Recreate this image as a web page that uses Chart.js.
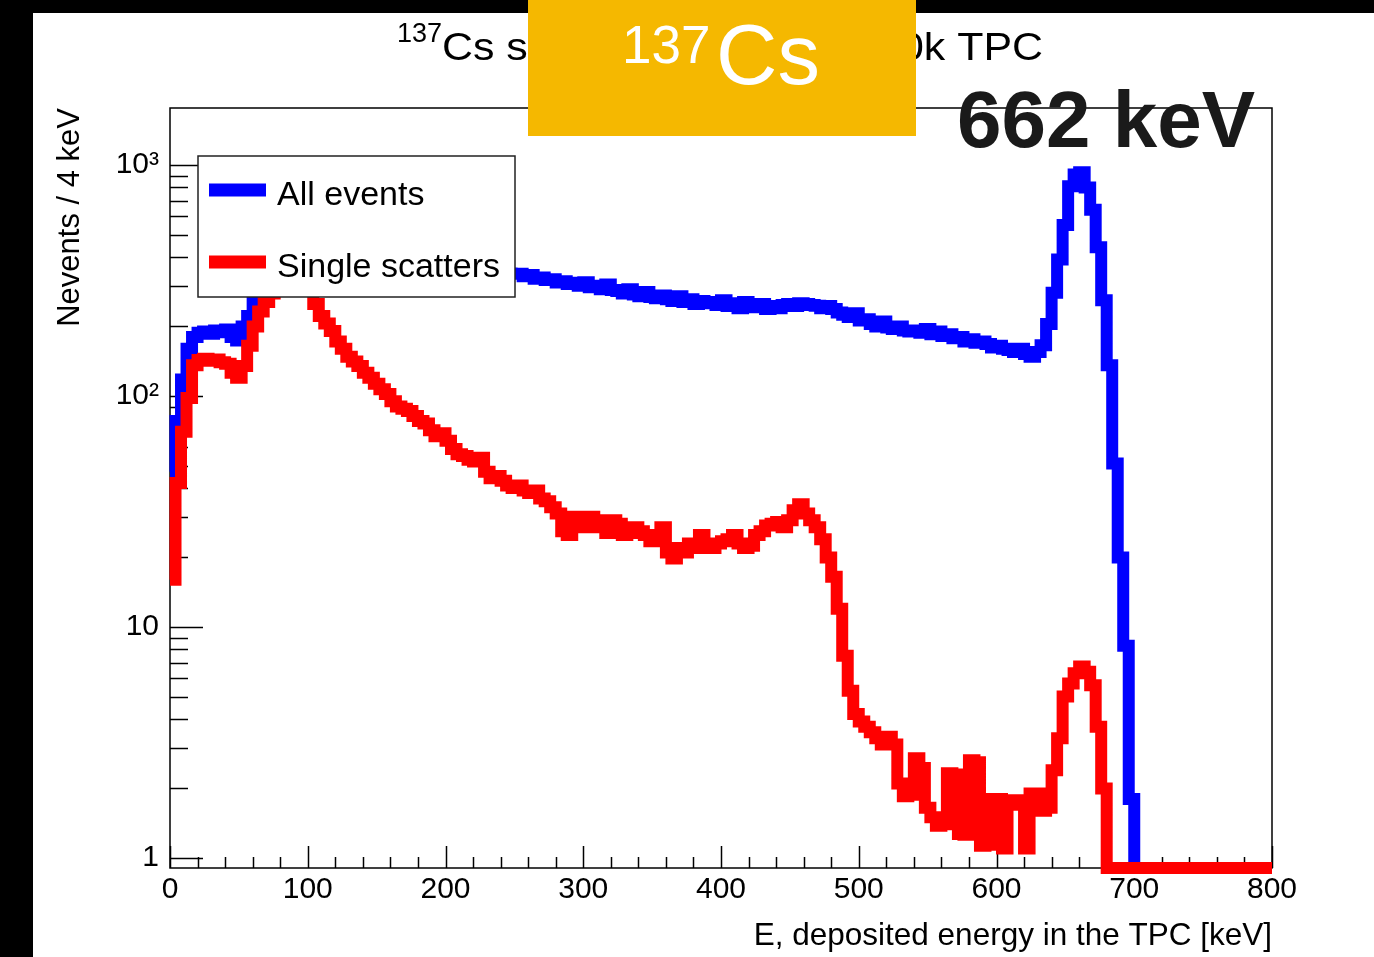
<!DOCTYPE html>
<html>
<head>
<meta charset="utf-8">
<title>137Cs spectrum</title>
<script src="https://cdn.jsdelivr.net/npm/chart.js@4.4.1/dist/chart.umd.min.js"></script>
<style>
  html, body { margin: 0; padding: 0; background: #000; overflow: hidden; }
  #chart { display: block; }
</style>
</head>
<body>
<canvas id="chart" width="1374" height="957"></canvas>
<script>
// histogram binning (keV)
const binWidth = 4;
const xMin = 0;
const xMax = 800;
const yMin = 0.905;
const yMax = 1765;

const xTicks = [0, 100, 200, 300, 400, 500, 600, 700, 800];
const yTicks = [1, 10, 100, 1000];
const yTickLabels = ['1', '10', '10²', '10³'];

// Nevents / 4 keV, one value per bin starting at 0 keV
const allEvents = [
  47, 78, 118, 160, 180, 188, 190, 186, 192, 189, 194, 180, 174, 200, 222, 255, 300,
  345, 390, 420, 440, 452, 455, 448, 438, 425, 415, 405, 398, 392, 386, 380,
  377, 373, 370, 368, 366, 363, 361, 360, 358, 356, 355, 353, 352, 351, 350,
  349, 348, 347, 346, 346, 345, 344, 343, 343, 342, 341, 341, 340, 340, 339, 338,
  338, 330, 334, 322, 326, 318,
  320, 310, 314, 305,
  309, 300, 311, 296,
  300, 290, 304, 288,
  285, 278, 290, 275, 270, 282, 268, 265, 272,
  262, 258, 270, 255, 262, 250, 258, 252,
  255, 248, 260, 245, 252, 240, 255, 248,
  242, 250, 238, 245, 240,
  248, 250, 245, 252, 250, 248, 246, 240, 245,
  238, 230, 225, 220, 228, 212, 215,
  205, 200, 210, 198, 195, 200, 192, 190,
  192, 188, 195, 185, 190, 182,
  185, 178, 180, 172, 176, 170,
  172, 168, 162, 165,
  160, 158, 155, 160, 152, 148, 155,
  166, 205, 280, 390, 550, 810, 910, 930, 800, 640, 440, 260, 136, 51, 20, 8.3, 1.8,
  0, 0, 0, 0, 0, 0, 0, 0, 0, 0, 0, 0, 0, 0, 0, 0, 0, 0, 0, 0, 0, 0, 0, 0, 0
];

const singleScatters = [
  16, 42, 70, 98, 136, 143, 145, 142, 144, 140, 138, 126, 120, 135, 165, 200, 232,
  255, 278, 300, 320, 335, 340, 335, 320, 298,
  250, 222, 206, 191, 172, 160, 148, 141, 135, 126, 120, 113, 107, 102, 95,
  90, 88, 86, 82, 78, 76, 71, 67, 69, 64, 59, 56, 55, 53, 52,
  54, 47, 44, 45, 43, 41, 40, 41, 39, 38, 39, 36, 35, 33, 31,
  26, 25, 30, 29, 27, 30, 29, 27, 25.5, 29, 28, 25, 25.5, 27, 26, 25, 23.5, 24, 27, 21,
  19.8, 22, 21, 23, 22, 25, 22, 22, 23, 23.5, 24, 25, 23, 22, 22.5, 25, 26, 27.5, 28, 28.5, 27,
  29, 32, 34, 31, 29, 27, 24, 20, 16.5, 12,
  7.5, 5.3, 4.2, 3.9, 3.7, 3.5, 3.3, 3.1, 3.35, 3.1,
  2.1, 1.85, 1.88, 2.7, 2.45, 1.65, 1.5, 1.38, 1.4, 2.33,
  2.3, 1.27, 1.26, 2.65, 2.6, 1.13, 1.14, 1.8, 1.8, 1.1,
  1.78, 1.78, 1.7, 1.1, 1.9, 1.9, 1.6, 1.65, 2.4, 3.3,
  5.0, 5.7, 6.3, 6.75, 6.4, 5.6, 3.7, 2.0,
  0, 0, 0, 0, 0, 0, 0, 0, 0, 0, 0, 0, 0, 0, 0, 0, 0, 0, 0, 0, 0, 0, 0, 0, 0, 0, 0, 0, 0, 0
];

const FONT = '"Liberation Sans", Arial, Helvetica, sans-serif';
Chart.defaults.font.family = FONT;
Chart.defaults.color = '#000';

// bin lower edges as step points, plus the closing edge; empty bins sit on the frame bottom
function histPoints(values) {
  const pts = values.map((v, i) => ({ x: xMin + i * binWidth, y: v > 0 ? v : yMin }));
  pts.push({ x: xMin + values.length * binWidth, y: pts[pts.length - 1].y });
  return pts;
}

// page background, frame, inward ROOT-style ticks
const rootFrame = {
  id: 'rootFrame',
  beforeDraw(chart) {
    const ctx = chart.ctx;
    ctx.save();
    ctx.fillStyle = '#000';
    ctx.fillRect(0, 0, chart.width, chart.height);
    ctx.fillStyle = '#fff';
    ctx.fillRect(33, 13, chart.width - 33, chart.height - 13);
    ctx.restore();
  },
  beforeDatasetsDraw(chart) {
    const ctx = chart.ctx;
    const { left, right, top, bottom } = chart.chartArea;
    const xs = chart.scales.x;
    const ys = chart.scales.y;
    ctx.save();
    ctx.strokeStyle = '#000';
    ctx.lineWidth = 1.5;
    ctx.beginPath();
    for (let e = xMin; e <= xMax; e += 20) {
      const px = Math.round(xs.getPixelForValue(e)) + 0.5;
      const len = e % 100 === 0 ? 22 : 11;
      ctx.moveTo(px, bottom);
      ctx.lineTo(px, bottom - len);
    }
    for (let d = 1; d <= 1000; d *= 10) {
      for (let m = 1; m <= 9; m++) {
        const v = m * d;
        if (v < yMin || v > yMax) continue;
        const py = Math.round(ys.getPixelForValue(v)) + 0.5;
        ctx.moveTo(left, py);
        ctx.lineTo(left + (m === 1 ? 33 : 18), py);
      }
    }
    ctx.stroke();
    ctx.strokeRect(left, top, right - left, bottom - top);
    ctx.restore();
  },
  afterDatasetsDraw(chart) {
    // legend box inside the frame
    const ctx = chart.ctx;
    ctx.save();
    ctx.fillStyle = '#fff';
    ctx.fillRect(198, 156, 317, 141);
    ctx.strokeStyle = '#222';
    ctx.lineWidth = 1.5;
    ctx.strokeRect(198, 156, 317, 141);
    const rows = [190, 262];
    chart.data.datasets.forEach((ds, i) => {
      const y = rows[i];
      ctx.strokeStyle = ds.borderColor;
      ctx.lineWidth = 13;
      ctx.lineCap = 'butt';
      ctx.beginPath();
      ctx.moveTo(209, y);
      ctx.lineTo(266, y);
      ctx.stroke();
      ctx.fillStyle = '#000';
      ctx.font = '34px ' + FONT;
      ctx.textAlign = 'left';
      ctx.textBaseline = 'alphabetic';
      ctx.fillText(ds.label, 277, y + 15);
    });
    ctx.restore();
  },
  afterDraw(chart) {
    const ctx = chart.ctx;
    ctx.save();
    ctx.textBaseline = 'alphabetic';
    // title, stretched to the span it covers in the original plot
    ctx.fillStyle = '#000';
    ctx.font = '27px ' + FONT;
    ctx.textAlign = 'right';
    ctx.fillText('137', 442, 42);
    ctx.font = '39px ' + FONT;
    ctx.textAlign = 'left';
    const titleText = 'Cs spectrum for the 1000k TPC';
    const w = ctx.measureText(titleText).width;
    ctx.translate(442, 60);
    ctx.scale((1043 - 442) / w, 1);
    ctx.fillText(titleText, 0, 0);
    ctx.restore();

    ctx.save();
    ctx.textBaseline = 'alphabetic';
    ctx.textAlign = 'left';
    // isotope badge
    ctx.fillStyle = '#f5b800';
    ctx.fillRect(528, 0, 388, 136);
    ctx.fillStyle = '#fff';
    ctx.font = '53px ' + FONT;
    ctx.fillText('137', 622, 63);
    ctx.font = '85px ' + FONT;
    ctx.fillText('Cs', 716, 84);
    // photopeak energy
    ctx.fillStyle = '#1a1a1a';
    ctx.font = 'bold 80px ' + FONT;
    ctx.fillText('662 keV', 957, 147);
    ctx.restore();
  }
};

new Chart(document.getElementById('chart'), {
  type: 'line',
  data: {
    datasets: [
      {
        label: 'All events',
        data: histPoints(allEvents),
        borderColor: '#0000ff',
        borderWidth: 12,
        stepped: true,
        pointRadius: 0,
        fill: false,
        clip: false,
        borderJoinStyle: 'miter',
        borderCapStyle: 'butt',
        order: 1
      },
      {
        label: 'Single scatters',
        data: histPoints(singleScatters),
        borderColor: '#ff0000',
        borderWidth: 12,
        stepped: true,
        pointRadius: 0,
        fill: false,
        clip: false,
        borderJoinStyle: 'miter',
        borderCapStyle: 'butt',
        order: 0
      }
    ]
  },
  options: {
    responsive: false,
    animation: false,
    devicePixelRatio: 1,
    layout: { padding: { top: 108, right: 102, bottom: 0, left: 0 } },
    plugins: {
      legend: { display: false },
      tooltip: { enabled: false },
      title: { display: false }
    },
    scales: {
      x: {
        type: 'linear',
        min: xMin,
        max: xMax,
        afterBuildTicks: (s) => { s.ticks = xTicks.map(v => ({ value: v })); },
        afterFit: (s) => { s.height = 89; },
        ticks: { font: { size: 30 }, color: '#000', padding: 4, maxRotation: 0, autoSkip: false },
        grid: { display: false, drawTicks: false },
        border: { display: false },
        title: {
          display: true,
          text: 'E, deposited energy in the TPC [keV]',
          align: 'end',
          color: '#000',
          font: { size: 31.5 },
          padding: { top: 0, bottom: 2 }
        }
      },
      y: {
        type: 'logarithmic',
        min: yMin,
        max: yMax,
        afterBuildTicks: (s) => { s.ticks = yTicks.map(v => ({ value: v })); },
        afterFit: (s) => { s.width = 170; },
        ticks: {
          font: { size: 30 },
          color: '#000',
          padding: 11,
          autoSkip: false,
          callback: (v) => yTickLabels[yTicks.indexOf(v)]
        },
        grid: { display: false, drawTicks: false },
        border: { display: false },
        title: {
          display: true,
          text: 'Nevents / 4 keV',
          align: 'end',
          color: '#000',
          font: { size: 31 },
          padding: { top: 52, bottom: 0 }
        }
      }
    }
  },
  plugins: [rootFrame]
});
</script>
</body>
</html>
